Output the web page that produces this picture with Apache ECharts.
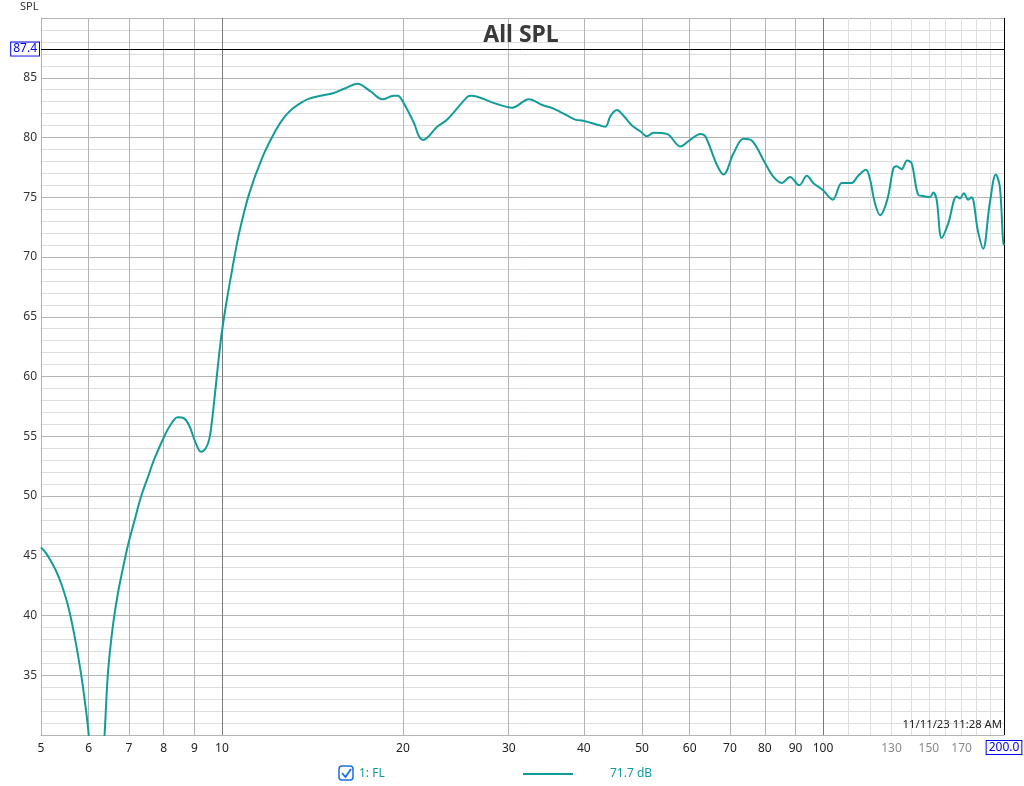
<!DOCTYPE html>
<html><head><meta charset="utf-8">
<script src="https://cdn.jsdelivr.net/npm/echarts@6/dist/echarts.min.js"></script>
<style>html,body{margin:0;padding:0;background:#fff}#c{width:1024px;height:786px}</style>
</head><body><div id="c"></div>
<script>
// ---- data ----
const freqHz = [5.0,5.1,5.2,5.3,5.4,5.54,5.68,5.83,5.94,6.0,6.08,6.19,6.3,6.38,6.46,6.58,6.71,6.84,6.97,7.15,7.33,7.52,7.72,8.02,8.2,8.44,8.65,8.82,9.05,9.23,9.4,9.53,9.62,9.71,9.96,10.15,10.42,10.68,11.1,11.69,12.29,12.7,13.1,13.53,13.96,14.6,15.3,16.0,16.8,17.68,18.5,19.3,19.6,20.0,20.87,21.27,21.6,22.8,23.7,25.6,26.0,28.3,30.4,32.4,34.2,35.7,38.7,39.9,42.6,43.45,44.3,45.4,46.6,48.1,49.7,50.95,52.25,55.0,57.9,60.1,62.5,63.7,66.6,68.3,71.0,73.7,76.1,80.1,82.7,85.4,88.1,91.3,93.96,96.3,99.9,103.8,107.4,109.5,111.6,114.4,117.9,119.7,122.0,124.4,127.9,130.9,132.6,135.1,138.0,140.4,144.0,146.8,150.6,152.5,154.5,157.5,161.5,166.8,168.9,171.5,174.3,176.6,181.1,184.6,189.4,193.8,196.8,199.3,200];
const splDb  = [45.7,45.2,44.5,43.7,42.7,40.9,38.4,35.1,32.1,30.1,26,22,26,30.1,35.1,39.0,41.8,43.9,45.8,47.9,49.9,51.5,53.1,55.0,55.9,56.6,56.5,55.9,54.4,53.7,54.0,54.8,56.2,58.0,63.1,65.9,69.2,72.0,75.3,78.4,80.6,81.7,82.4,82.9,83.25,83.5,83.7,84.1,84.5,83.85,83.2,83.5,83.5,83.0,81.2,80.1,79.8,80.9,81.5,83.4,83.5,82.9,82.5,83.2,82.7,82.4,81.5,81.4,81.0,80.9,81.8,82.3,81.8,81.0,80.5,80.1,80.4,80.3,79.25,79.8,80.3,80.1,77.7,76.9,78.7,79.9,79.75,77.85,76.7,76.2,76.7,76.0,76.8,76.2,75.6,74.8,76.2,76.2,76.2,76.8,77.3,76.5,74.5,73.5,74.8,77.4,77.6,77.35,78.07,77.85,75.2,75.1,75.0,75.4,74.8,71.6,72.8,75.06,74.9,75.34,74.8,75.0,72.1,70.7,74.5,76.9,75.9,71.3,71.0];
const gridFreqs      = [6,7,8,9,20,30,40,50,60,70,80,90];
const decadeFreqs    = [10,100];
const minorFreqs     = [110,120,130,140,150,160,170,180,190];
const blackLabelFreqs = [5,6,7,8,9,10,20,30,40,50,60,70,80,90,100];
const grayLabelFreqs  = [130,150,170];
const cursorFreq = 200, cursorFreqText = '200.0';
const cursorSpl = 87.4, cursorSplText = '87.4';
const seriesName = '1: FL', legendValueText = '71.7 dB';
const titleText = 'All SPL', yTitleText = 'SPL', stampText = '11/11/23 11:28 AM';

const FONT = 'Noto Sans';
const TEAL = '#129c99';
const BLUE = '#0000ee';

const lines = [];
const lbl = f => {
  if (blackLabelFreqs.includes(f)) return {show:true, position:'start', distance:4, offset:[0,4], formatter:String(f), color:'#222', fontSize:12, fontFamily:FONT};
  if (grayLabelFreqs.includes(f)) return {show:true, position:'start', distance:4, offset:[0,4], formatter:String(f), color:'#8a8a8a', fontSize:12, fontFamily:FONT};
  return {show:false};
};
lines.push({xAxis:5, lineStyle:{color:'#b4b4b4', width:1, type:'solid'}, label:lbl(5)});
gridFreqs.forEach(f => lines.push({xAxis:f, lineStyle:{color:'#b4b4b4', width:1, type:'solid'}, label:lbl(f)}));
decadeFreqs.forEach(f => lines.push({xAxis:f, lineStyle:{color:'#7a7a7a', width:1, type:'solid'}, label:lbl(f)}));
minorFreqs.forEach(f => lines.push({xAxis:f, lineStyle:{color:'#dedede', width:1, type:'solid'}, label:lbl(f)}));
lines.push({xAxis:cursorFreq, lineStyle:{color:'#000', width:1, type:'solid'},
  label:{show:true, position:'start', distance:4, offset:[0,2], formatter:cursorFreqText, color:BLUE, fontSize:12, fontFamily:FONT, borderColor:BLUE, borderWidth:1, backgroundColor:'#fff', padding:[1,2,0,2]}});
lines.push({yAxis:cursorSpl, lineStyle:{color:'#000', width:1, type:'solid'},
  label:{show:true, position:'start', distance:2, formatter:cursorSplText, color:BLUE, fontSize:12, fontFamily:FONT, borderColor:BLUE, borderWidth:1, backgroundColor:'#fff', padding:[1,2,0,2]}});

const chart = echarts.init(document.getElementById('c'), null, {renderer:'canvas'});
chart.setOption({
  animation:false,
  backgroundColor:'#fff',
  grid:{left:41, right:20, top:18, bottom:51, containLabel:false},
  xAxis:{type:'log', logBase:10, min:5, max:200,
    axisLine:{show:true, lineStyle:{color:'#b4b4b4'}}, axisTick:{show:false},
    axisLabel:{show:false}, splitLine:{show:false}},
  yAxis:{type:'value', min:30, max:90, interval:5,
    axisLine:{show:true, lineStyle:{color:'#b4b4b4'}}, axisTick:{show:false},
    axisLabel:{color:'#333', fontSize:12, fontFamily:FONT, margin:4,
      formatter:v => (v===30||v===90) ? '' : String(v)},
    splitLine:{show:true, lineStyle:{color:'#b4b4b4', width:1}},
    minorTick:{show:false, splitNumber:5},
    minorSplitLine:{show:true, lineStyle:{color:'#dedede', width:1}}},
  series:[
    {type:'line', name:'grid', data:[], z:1, silent:true,
      markLine:{silent:true, symbol:['none','none'], animation:false, data:lines}},
    {type:'line', name:seriesName, z:5, smooth:0.35, showSymbol:false, clip:true,
      lineStyle:{color:TEAL, width:2}, itemStyle:{color:TEAL},
      data:freqHz.map((f,i)=>[f, splDb[i]])}
  ],
  graphic:[
    {type:'text', left:20, top:1, style:{text:yTitleText, font:'11px "'+FONT+'"', fill:'#333'}},
    {type:'text', x:521, y:35, style:{text:titleText, font:'bold 23px "'+FONT+'"', fill:'#3a3a3a', textAlign:'center', textVerticalAlign:'middle'}, z:10},
    {type:'text', x:1002, y:725, style:{text:stampText, font:'11.3px "'+FONT+'"', fill:'#222', textAlign:'right', textVerticalAlign:'middle'}, z:10},
    {type:'rect', shape:{x:339, y:766, width:14, height:14, r:3}, style:{fill:'#fff', stroke:'#1a6fe0', lineWidth:1.5}},
    {type:'polyline', shape:{points:[[342,773],[345.5,777],[351,769]]}, style:{stroke:'#1a6fe0', lineWidth:1.8, fill:null}},
    {type:'text', x:359, y:774, style:{text:seriesName, font:'12px "'+FONT+'"', fill:TEAL, textVerticalAlign:'middle'}},
    {type:'line', shape:{x1:523, y1:774, x2:573, y2:774}, style:{stroke:TEAL, lineWidth:2}},
    {type:'text', x:610, y:774, style:{text:legendValueText, font:'12px "'+FONT+'"', fill:TEAL, textVerticalAlign:'middle'}}
  ]
});
</script></body></html>
